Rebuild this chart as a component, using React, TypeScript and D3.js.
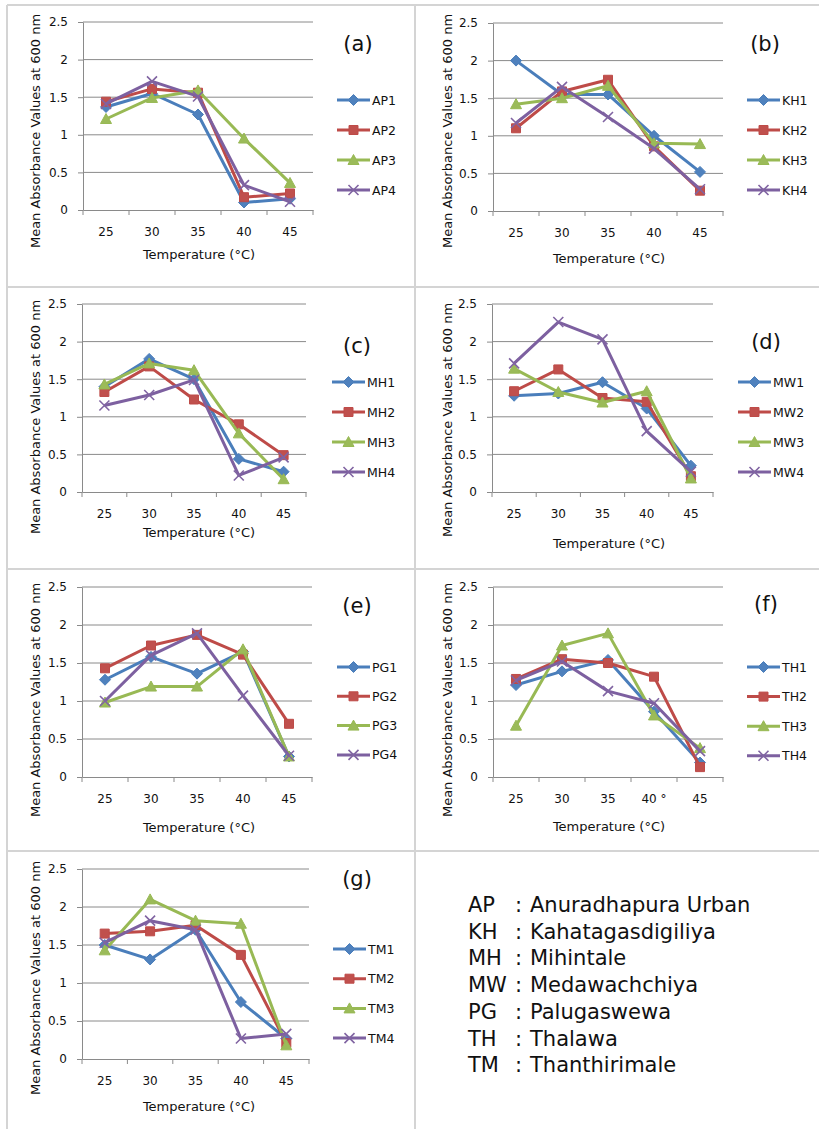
import React, { useEffect, useRef } from 'react';
import * as d3 from 'd3';

const temps = ['25', '30', '35', '40', '45'];
const tempLabels = ['25', '30', '35', '40', '45'];
const tempLabelsF = ['25', '30', '35', '40 °', '45'];
const yTicks = [0, 0.5, 1, 1.5, 2, 2.5];

const apNames = ['AP1', 'AP2', 'AP3', 'AP4'];
const apValues = [
  [1.37, 1.55, 1.27, 0.1, 0.15],
  [1.44, 1.61, 1.56, 0.17, 0.22],
  [1.21, 1.49, 1.59, 0.95, 0.36],
  [1.41, 1.71, 1.51, 0.33, 0.11],
];

const khNames = ['KH1', 'KH2', 'KH3', 'KH4'];
const khValues = [
  [2.0, 1.55, 1.55, 1.0, 0.52],
  [1.1, 1.59, 1.745, 0.86, 0.27],
  [1.42, 1.5, 1.665, 0.9, 0.89],
  [1.17, 1.65, 1.25, 0.83, 0.29],
];

const mhNames = ['MH1', 'MH2', 'MH3', 'MH4'];
const mhValues = [
  [1.4, 1.77, 1.5, 0.44, 0.27],
  [1.33, 1.67, 1.23, 0.9, 0.49],
  [1.43, 1.71, 1.62, 0.78, 0.17],
  [1.15, 1.29, 1.49, 0.22, 0.46],
];

const mwNames = ['MW1', 'MW2', 'MW3', 'MW4'];
const mwValues = [
  [1.28, 1.31, 1.46, 1.11, 0.35],
  [1.34, 1.63, 1.25, 1.2, 0.21],
  [1.64, 1.33, 1.19, 1.34, 0.18],
  [1.71, 2.26, 2.03, 0.81, 0.27],
];

const pgNames = ['PG1', 'PG2', 'PG3', 'PG4'];
const pgValues = [
  [1.28, 1.58, 1.36, 1.65, 0.27],
  [1.43, 1.73, 1.87, 1.61, 0.7],
  [0.98, 1.19, 1.19, 1.68, 0.27],
  [1.0, 1.6, 1.89, 1.07, 0.28],
];

const thNames = ['TH1', 'TH2', 'TH3', 'TH4'];
const thValues = [
  [1.21, 1.39, 1.54, 0.86, 0.19],
  [1.29, 1.55, 1.5, 1.32, 0.13],
  [0.675, 1.73, 1.89, 0.81, 0.38],
  [1.27, 1.52, 1.13, 0.97, 0.34],
];

const tmNames = ['TM1', 'TM2', 'TM3', 'TM4'];
const tmValues = [
  [1.5, 1.31, 1.7, 0.75, 0.27],
  [1.65, 1.68, 1.76, 1.37, 0.21],
  [1.43, 2.1, 1.82, 1.78, 0.18],
  [1.53, 1.82, 1.7, 0.27, 0.33],
];

const siteCodes = ['AP', 'KH', 'MH', 'MW', 'PG', 'TH', 'TM'];
const siteNames = ['Anuradhapura Urban', 'Kahatagasdigiliya', 'Mihintale', 'Medawachchiya', 'Palugaswewa', 'Thalawa', 'Thanthirimale'];

const lineColors = ['#4A7EBB', '#BE4B48', '#98B954', '#7D60A0'];
const markerColors = ['#4F81BD', '#C0504D', '#9BBB59', '#8064A2'];
const grey = '#8a8a8a';
const frame = '#d4d4d4';
const font = "'DejaVu Sans', Verdana, sans-serif";

// layout of each small chart (pixel boxes only)
const panels = [
  { tag: '(a)', names: apNames, values: apValues, labels: tempLabels, l: 83, r: 313, t: 22, b: 210, yTitleX: 40, yTitleY: 131, xTitleX: 199, xTitleY: 259, tagX: 358, tagY: 51, legX: 337, legY: 100, legGap: 30 },
  { tag: '(b)', names: khNames, values: khValues, labels: tempLabels, l: 493, r: 723, t: 23, b: 211, yTitleX: 452, yTitleY: 131, xTitleX: 609, xTitleY: 263, tagX: 765, tagY: 51, legX: 747, legY: 100, legGap: 30 },
  { tag: '(c)', names: mhNames, values: mhValues, labels: tempLabels, l: 82, r: 306, t: 304, b: 492, yTitleX: 40, yTitleY: 417, xTitleX: 199, xTitleY: 537, tagX: 357, tagY: 353, legX: 332, legY: 382, legGap: 30 },
  { tag: '(d)', names: mwNames, values: mwValues, labels: tempLabels, l: 492, r: 713, t: 304, b: 492, yTitleX: 452, yTitleY: 420, xTitleX: 609, xTitleY: 548, tagX: 766, tagY: 349, legX: 738, legY: 382, legGap: 30 },
  { tag: '(e)', names: pgNames, values: pgValues, labels: tempLabels, l: 82, r: 312, t: 587, b: 777, yTitleX: 40, yTitleY: 700, xTitleX: 199, xTitleY: 832, tagX: 357, tagY: 613, legX: 337, legY: 667, legGap: 29.3 },
  { tag: '(f)', names: thNames, values: thValues, labels: tempLabelsF, l: 493, r: 723, t: 587, b: 777, yTitleX: 452, yTitleY: 700, xTitleX: 609, xTitleY: 831, tagX: 766, tagY: 611, legX: 747, legY: 667, legGap: 29.6 },
  { tag: '(g)', names: tmNames, values: tmValues, labels: tempLabels, l: 82, r: 309, t: 869, b: 1059, yTitleX: 40, yTitleY: 978, xTitleX: 199, xTitleY: 1111, tagX: 357, tagY: 886, legX: 333, legY: 949, legGap: 29.7 },
];

const markerPath = (k: number) => {
  if (k === 0) return 'M0,-5.5L5.5,0L0,5.5L-5.5,0Z';
  if (k === 1) return 'M-4.5,-4.5H4.5V4.5H-4.5Z';
  if (k === 2) return 'M0,-5.5L5.5,4.5L-5.5,4.5Z';
  return 'M-5,-5L5,5M-5,5L5,-5';
};

const drawMarker = (g: any, k: number, cx: number, cy: number) => {
  const m = g.append('path')
    .attr('d', markerPath(k))
    .attr('transform', `translate(${cx},${cy})`);
  if (k === 3) {
    m.attr('fill', 'none').attr('stroke', markerColors[k]).attr('stroke-width', 1.6);
  } else {
    m.attr('fill', markerColors[k]).attr('stroke', lineColors[k]).attr('stroke-width', 1);
  }
};

const drawPanel = (svg: any, p: any) => {
  const x = d3.scaleBand().domain(temps).range([p.l, p.r]);
  const y = d3.scaleLinear().domain([0, 2.5]).range([p.b, p.t]);
  const cx = (t: string) => (x(t) as number) + x.bandwidth() / 2;
  const g = svg.append('g');

  g.selectAll('.grid')
    .data(yTicks.slice(1))
    .enter()
    .append('line')
    .attr('x1', p.l).attr('x2', p.r)
    .attr('y1', (d: number) => y(d)).attr('y2', (d: number) => y(d))
    .attr('stroke', grey).attr('stroke-width', 1);

  const ya = g.append('g')
    .attr('transform', `translate(${p.l},0)`)
    .call(d3.axisLeft(y).tickValues(yTicks).tickSize(5).tickSizeOuter(0).tickPadding(10).tickFormat((d: any) => String(d)));
  ya.attr('font-family', font).attr('font-size', 12);
  ya.selectAll('path,line').attr('stroke', grey);
  ya.selectAll('text').attr('fill', '#111');

  const xa = g.append('g')
    .attr('transform', `translate(0,${p.b})`)
    .call(d3.axisBottom(x).tickSize(0).tickSizeOuter(0).tickPadding(17).tickFormat((d: any, i: number) => p.labels[i]));
  xa.attr('font-family', font).attr('font-size', 12);
  xa.selectAll('path').attr('stroke', grey);
  xa.selectAll('text').attr('fill', '#111');

  const edges = temps.map((t) => x(t) as number).concat([p.r]);
  g.selectAll('.xt')
    .data(edges)
    .enter()
    .append('line')
    .attr('x1', (d: number) => d).attr('x2', (d: number) => d)
    .attr('y1', p.b).attr('y2', p.b + 5)
    .attr('stroke', grey);

  const line = d3.line<number>()
    .x((d, i) => cx(temps[i]))
    .y((d) => y(d));

  p.values.forEach((vals: number[], k: number) => {
    g.append('path')
      .datum(vals)
      .attr('d', line)
      .attr('fill', 'none')
      .attr('stroke', lineColors[k])
      .attr('stroke-width', 3)
      .attr('stroke-linejoin', 'round');
    vals.forEach((v, i) => drawMarker(g, k, cx(temps[i]), y(v)));
  });

  // legend
  p.names.forEach((n: string, k: number) => {
    const ly = p.legY + k * p.legGap;
    g.append('line')
      .attr('x1', p.legX).attr('x2', p.legX + 33)
      .attr('y1', ly).attr('y2', ly)
      .attr('stroke', lineColors[k]).attr('stroke-width', 3);
    drawMarker(g, k, p.legX + 16.5, ly);
    g.append('text')
      .attr('x', p.legX + 35).attr('y', ly)
      .attr('dy', '0.36em')
      .attr('font-family', font).attr('font-size', 12.5)
      .attr('fill', '#111')
      .text(n);
  });

  g.append('text')
    .attr('transform', `translate(${p.yTitleX},${p.yTitleY}) rotate(-90)`)
    .attr('text-anchor', 'middle')
    .attr('font-family', font).attr('font-size', 13)
    .attr('fill', '#111')
    .text('Mean Absorbance Values at 600 nm');

  g.append('text')
    .attr('x', p.xTitleX).attr('y', p.xTitleY)
    .attr('text-anchor', 'middle')
    .attr('font-family', font).attr('font-size', 13)
    .attr('fill', '#111')
    .text('Temperature (°C)');

  g.append('text')
    .attr('x', p.tagX).attr('y', p.tagY)
    .attr('text-anchor', 'middle')
    .attr('font-family', font).attr('font-size', 21)
    .attr('fill', '#111')
    .text(p.tag);
};

const App = () => {
  const ref = useRef<HTMLDivElement>(null);

  useEffect(() => {
    document.body.style.margin = '0';
    const root = d3.select(ref.current);
    root.selectAll('svg').remove();

    const svg = root.append('svg')
      .attr('width', 819)
      .attr('height', 1129)
      .style('display', 'block')
      .style('background', '#fff');

    // cell borders of the figure
    const hLines = [5, 287, 569, 851];
    const vLines = [7, 415];
    svg.selectAll('.hl').data(hLines).enter().append('line')
      .attr('x1', 7).attr('x2', 819)
      .attr('y1', (d: number) => d).attr('y2', (d: number) => d)
      .attr('stroke', frame).attr('stroke-width', 2);
    svg.selectAll('.vl').data(vLines).enter().append('line')
      .attr('x1', (d: number) => d).attr('x2', (d: number) => d)
      .attr('y1', 5).attr('y2', 1129)
      .attr('stroke', frame).attr('stroke-width', 2);

    panels.forEach((p) => drawPanel(svg, p));

    const key = svg.append('g').attr('font-family', font).attr('font-size', 21).attr('fill', '#111');
    siteCodes.forEach((c, i) => {
      const ky = 912 + i * 26.7;
      key.append('text').attr('x', 468).attr('y', ky).text(c);
      key.append('text').attr('x', 515).attr('y', ky).text(':');
      key.append('text').attr('x', 530).attr('y', ky).text(siteNames[i]);
    });
  }, []);

  return <div ref={ref}></div>;
};

export default App;
